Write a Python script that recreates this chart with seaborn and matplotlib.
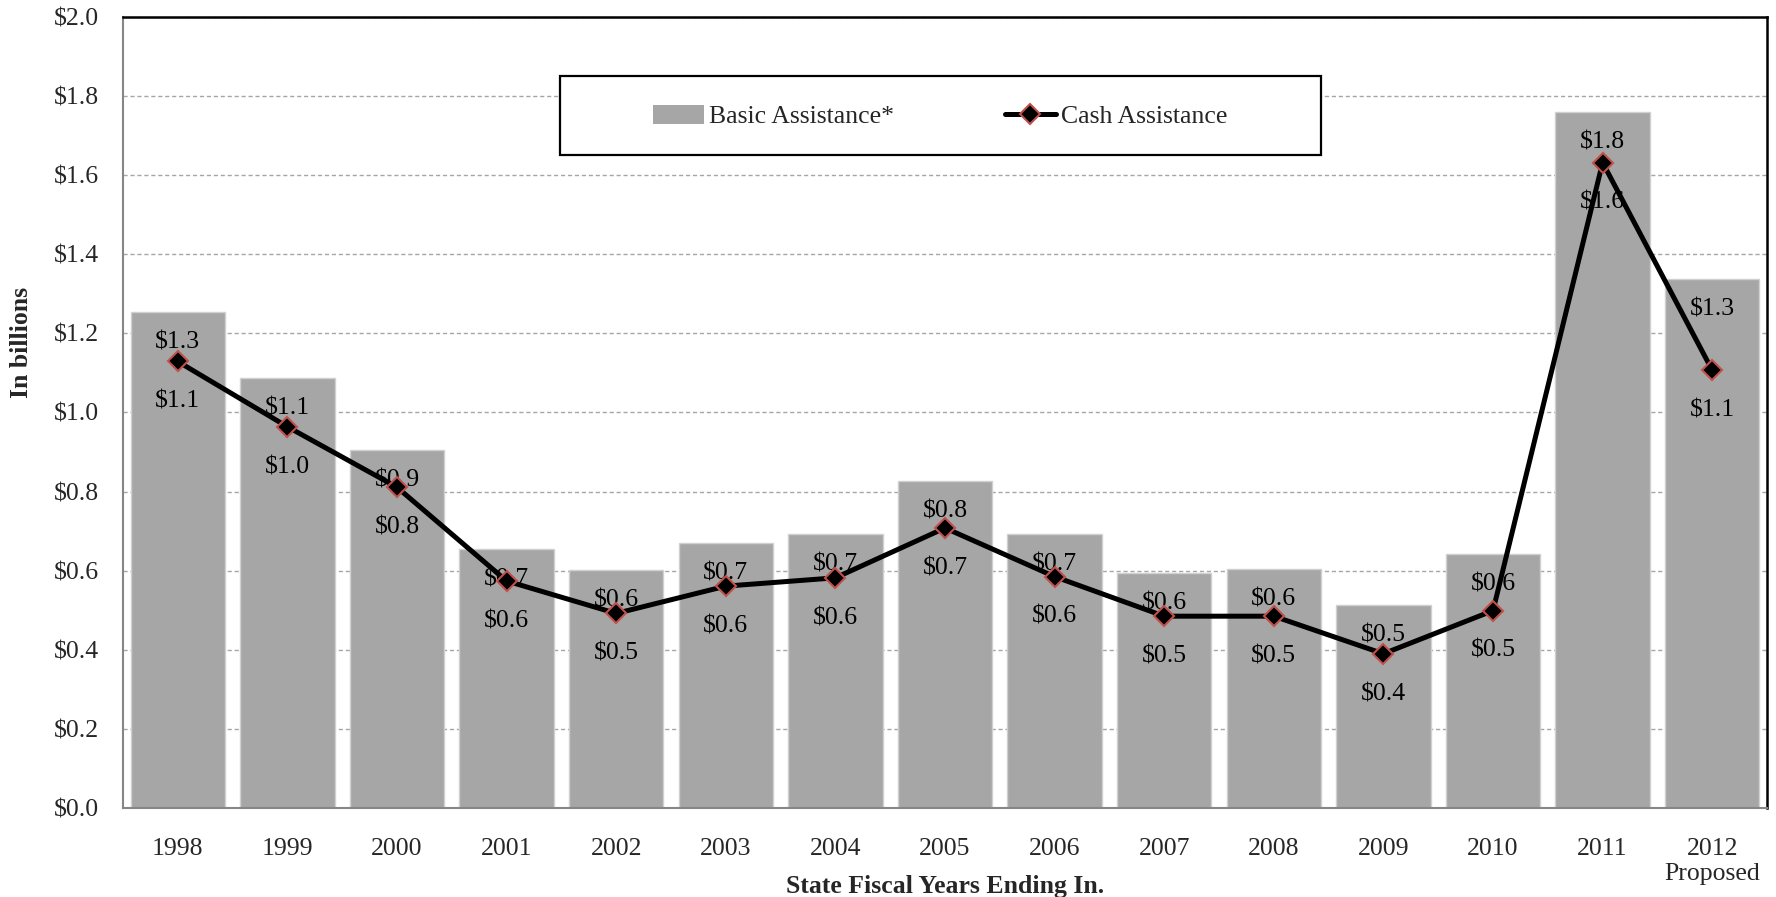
import matplotlib
matplotlib.use("Agg")
import matplotlib.pyplot as plt
from matplotlib.patches import Rectangle, Patch
from matplotlib.lines import Line2D
from matplotlib.ticker import FixedLocator, MultipleLocator, FuncFormatter
import numpy as np
import pandas as pd
import seaborn as sns

# Fiscal years and program spending (billions of dollars)
years = ["1998", "1999", "2000", "2001", "2002", "2003", "2004", "2005",
         "2006", "2007", "2008", "2009", "2010", "2011", "2012\nProposed"]
basic_assistance = [1.255, 1.087, 0.906, 0.655, 0.602, 0.669, 0.692, 0.826,
                    0.694, 0.594, 0.605, 0.514, 0.642, 1.761, 1.337]
cash_assistance = [1.129, 0.964, 0.811, 0.574, 0.492, 0.561, 0.582, 0.708,
                   0.585, 0.485, 0.485, 0.390, 0.499, 1.632, 1.107]

series_names = ["Basic Assistance*", "Cash Assistance"]
x_title = "State Fiscal Years Ending In."
y_title = "In billions"

BAR_COLOR = "#A6A6A6"
LINE_COLOR = "#000000"
MARKER_EDGE = "#C0504D"

sns.set_style("white")
plt.rcParams["font.family"] = ["Liberation Serif", "DejaVu Serif"]
plt.rcParams["font.size"] = 18.5

fig = plt.figure(figsize=(17.76, 8.97), dpi=100)
ax = fig.add_axes([123 / 1776, 89 / 897, 1644 / 1776, 791 / 897])

df = pd.DataFrame({"year": years, "basic": basic_assistance,
                   "cash": cash_assistance})
pos = np.arange(len(years))

sns.barplot(data=df, x="year", y="basic", order=years, color=BAR_COLOR,
            saturation=1, width=0.86, edgecolor="#D0D0D0", linewidth=1,
            ax=ax, zorder=2)

sns.lineplot(x=pos, y=df["cash"].to_numpy(), ax=ax, color=LINE_COLOR,
             linewidth=3.6, marker="D", markersize=10,
             markerfacecolor="black", markeredgecolor=MARKER_EDGE,
             markeredgewidth=1.5, zorder=5, legend=False)

# value labels: bar values just inside the bar top, line values beneath markers
for i, (b, c) in enumerate(zip(basic_assistance, cash_assistance)):
    ax.annotate(f"\\${b:.1f}", xy=(i, b), xytext=(0, -22),
                textcoords="offset points", ha="center", va="center",
                fontsize=18.5, color="black", zorder=4)
    ax.annotate(f"\\${c:.1f}", xy=(i, c), xytext=(0, -29),
                textcoords="offset points", ha="center", va="center",
                fontsize=18.5, color="black", zorder=4)

ax.set_xlim(-0.5, len(years) - 0.5)
ax.set_ylim(0, 2.0)
ax.yaxis.set_major_locator(MultipleLocator(0.2))
ax.yaxis.set_major_formatter(FuncFormatter(lambda v, p: f"\\${v:.1f}"))

ax.yaxis.grid(True, linestyle=(0, (3, 2)), color="#A6A6A6", linewidth=1)
ax.xaxis.grid(False)
ax.set_axisbelow(True)

# category separators as small outward ticks
ax.xaxis.set_minor_locator(FixedLocator(np.arange(-0.5, len(years), 1.0)))
ax.tick_params(axis="x", which="minor", length=5, width=1.2,
               color="#868686", direction="out")
ax.tick_params(axis="x", which="major", length=0, pad=21.5, labelsize=18.5)
ax.tick_params(axis="y", which="major", length=0, pad=17, labelsize=18.5)

for side in ("left", "bottom"):
    ax.spines[side].set_color("#868686")
    ax.spines[side].set_linewidth(1.5)
for side in ("top", "right"):
    ax.spines[side].set_color("black")
    ax.spines[side].set_linewidth(1.8)

ax.set_xlabel(x_title, fontsize=18.5, fontweight="bold")
ax.xaxis.set_label_coords(0.5, -0.085)
ax.xaxis.label.set_va("top")
ax.set_ylabel(y_title, fontsize=18.5, fontweight="bold")
ax.yaxis.set_label_coords(-0.0545, 0.588)

# legend box
box = Rectangle((0.2656, 0.8253), 0.4629, 0.1002, transform=ax.transAxes,
                facecolor="white", edgecolor="black", linewidth=1.6,
                zorder=10)
ax.add_patch(box)
handles = [
    Patch(facecolor=BAR_COLOR, edgecolor="none"),
    Line2D([0], [0], color=LINE_COLOR, linewidth=3.6, marker="D",
           markersize=10, markerfacecolor="black",
           markeredgecolor=MARKER_EDGE, markeredgewidth=1.5),
]
leg = ax.legend(handles, series_names, loc="center",
                bbox_to_anchor=(0.2656 + 0.4629 / 2, 0.874), ncol=2,
                frameon=False, fontsize=18.5, handlelength=2.0,
                handleheight=0.78, handletextpad=0.2, columnspacing=4.3)
leg.set_zorder(11)

fig.savefig("out.png", dpi=100)
